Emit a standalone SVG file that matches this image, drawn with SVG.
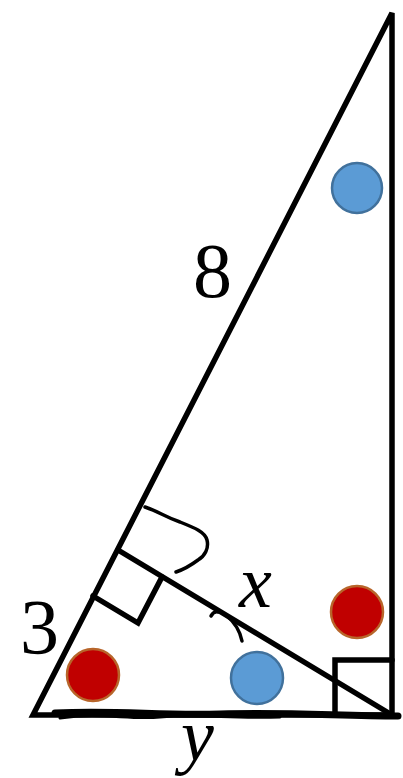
<svg xmlns="http://www.w3.org/2000/svg" width="403" height="778" viewBox="0 0 403 778">
<style>
.ln{fill:none;stroke:#000;stroke-width:5.5;stroke-linecap:round;stroke-linejoin:miter}
.hand{fill:none;stroke:#000;stroke-width:3.5;stroke-linecap:round;stroke-linejoin:round}
.red{fill:#C00000;stroke:#B8652A;stroke-width:2.5}
.blue{fill:#5B9BD5;stroke:#41719C;stroke-width:2.5}
.lbl{font-family:"Liberation Serif",serif;font-size:78px;fill:#000}
.it{font-family:"Liberation Serif",serif;font-style:italic;font-size:74px;fill:#000}
</style>
<rect width="403" height="778" fill="#fff"/>
<g id="connectors">
<path class="ln" d="M392 13 L33 715 L392 715 Z"/>
<path class="ln" d="M118 550 L392 715"/>
<path class="ln" d="M335 715 L335 660 L392 660"/>
<path class="ln" d="M93 596 L138 623 L162 577"/>
<path class="hand" d="M145 507 C160 512 165 517 180 522 C195 528 205 532 207 540 C209 548 205 556 198 560 C190 566 182 570 176 572"/>
<path class="hand" d="M211 616 Q214 611 218 612"/>
<path class="hand" d="M227 616 Q239 626 242 641"/>
<path fill="none" stroke="#000" stroke-width="7" stroke-linecap="round" d="M55 713 C120 710 160 716 220 714 C290 712 340 716 398 716"/>
<path fill="none" stroke="#000" stroke-width="3" stroke-linecap="round" d="M60 718 C100 712 130 720 160 717 C200 713 230 719 280 717"/>
</g>
<g id="circle-red-left"><circle class="red" cx="93" cy="675" r="26"/></g>
<g id="circle-blue-bottom"><circle class="blue" cx="257" cy="678" r="26"/></g>
<g id="circle-blue-top"><circle class="blue" cx="357" cy="188" r="25"/></g>
<g id="circle-red-right"><circle class="red" cx="357" cy="612" r="26"/></g>
<g id="label-8"><text class="lbl" x="193" y="297">8</text></g>
<g id="label-3"><text class="lbl" x="20" y="653">3</text></g>
<g id="label-x"><text class="it" x="239" y="607">x</text></g>
<g id="label-y"><text class="it" x="181" y="760">y</text></g>
</svg>
